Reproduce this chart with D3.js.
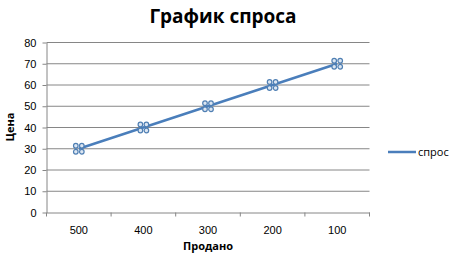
<!DOCTYPE html>
<html>
<head>
<meta charset="utf-8">
<script src="https://cdn.jsdelivr.net/npm/d3@7"></script>
<style>
  body { margin: 0; background: #fff; }
  svg { font-family: "Open Sans", "DejaVu Sans", sans-serif; }
  .grid line { stroke: #868686; stroke-width: 1; }
  .axis path, .axis line { stroke: #868686; }
  .axis text { font-size: 11px; fill: #000; }
</style>
</head>
<body>
<div id="chart"></div>
<script>
  // data
  let categories = ["500", "400", "300", "200", "100"];
  let values = [30, 40, 50, 60, 70];
  let yTicks = [0, 10, 20, 30, 40, 50, 60, 70, 80];
  let seriesName = "спрос";

  let w = 453, h = 257;
  let mLeft = 46.5, mRight = 369.5, mTop = 42.5, mBottom = 212.5;

  let svg = d3.select("#chart").append("svg")
      .attr("width", w)
      .attr("height", h);

  let x = d3.scaleBand().domain(categories).range([mLeft, mRight]);
  let y = d3.scaleLinear().domain([0, 80]).range([mBottom, mTop]);

  // gridlines
  svg.append("g").attr("class", "grid")
    .selectAll("line").data(yTicks.filter(d => d > 0)).enter().append("line")
      .attr("x1", mLeft).attr("x2", mRight)
      .attr("y1", d => y(d)).attr("y2", d => y(d));

  // y axis
  let yAxis = svg.append("g").attr("class", "axis")
      .attr("transform", "translate(" + mLeft + ",0)")
      .call(d3.axisLeft(y).tickValues(yTicks).tickSize(4).tickPadding(6).tickSizeOuter(0));

  // x axis
  let xAxis = svg.append("g").attr("class", "axis")
      .attr("transform", "translate(0," + mBottom + ")")
      .call(d3.axisBottom(x).tickSize(0).tickPadding(14).tickSizeOuter(0));
  // tick marks between categories
  let bounds = categories.map(c => x(c)).concat([x(categories[categories.length - 1]) + x.bandwidth()]);
  xAxis.selectAll(".sep").data(bounds).enter().append("line")
      .attr("class", "sep")
      .attr("x1", d => d).attr("x2", d => d)
      .attr("y1", 0).attr("y2", 4)
      .attr("stroke", "#868686");

  // line
  let line = d3.line()
      .x((d, i) => x(categories[i]) + x.bandwidth() / 2)
      .y(d => y(d));
  svg.append("path")
      .datum(values)
      .attr("fill", "none")
      .attr("stroke", "#4a7ebb")
      .attr("stroke-width", 2.5)
      .attr("d", line);

  // markers: four small rings
  let offs = [[-3, -3], [3, -3], [-3, 3], [3, 3]];
  let mk = svg.append("g").selectAll("g").data(values).enter().append("g")
      .attr("transform", (d, i) => "translate(" + (x(categories[i]) + x.bandwidth() / 2) + "," + y(d) + ")");
  mk.selectAll("circle").data(offs).enter().append("circle")
      .attr("cx", d => d[0]).attr("cy", d => d[1])
      .attr("r", 2.3)
      .attr("fill", "#dce6f2")
      .attr("stroke", "#4f7fb3")
      .attr("stroke-width", 1.2);

  // title
  svg.append("text")
      .attr("x", 223).attr("y", 23)
      .attr("text-anchor", "middle")
      .attr("font-size", 19).attr("font-weight", "bold")
      .text("График спроса");

  // axis titles
  svg.append("text")
      .attr("transform", "translate(14,127) rotate(-90)")
      .attr("text-anchor", "middle")
      .attr("font-size", 11).attr("font-weight", "bold")
      .text("Цена");
  svg.append("text")
      .attr("x", 208).attr("y", 250)
      .attr("text-anchor", "middle")
      .attr("font-size", 11).attr("font-weight", "bold")
      .text("Продано");

  // legend
  svg.append("line")
      .attr("x1", 388).attr("x2", 416)
      .attr("y1", 152).attr("y2", 152)
      .attr("stroke", "#4a7ebb").attr("stroke-width", 2.5);
  svg.append("text")
      .attr("x", 418).attr("y", 156)
      .attr("font-size", 11)
      .text(seriesName);
</script>
</body>
</html>
